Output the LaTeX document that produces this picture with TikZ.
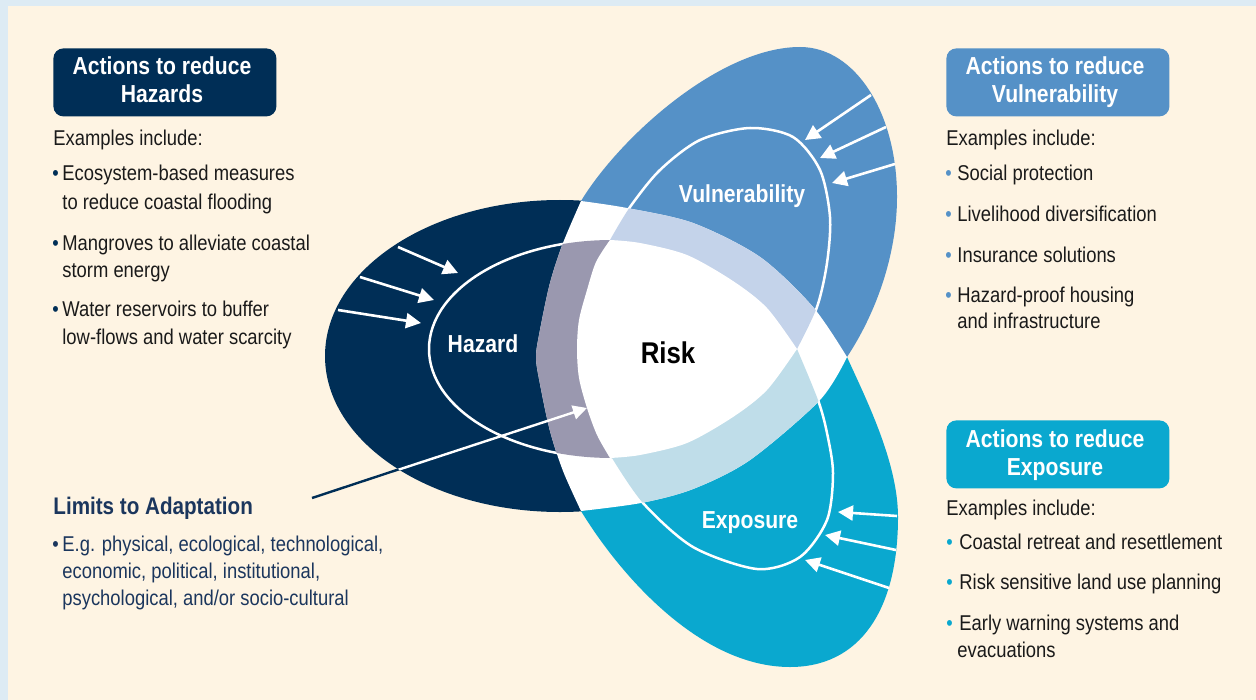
\documentclass[tikz,border=0pt]{standalone}
\usepackage{fontspec}
\setmainfont{Liberation Sans}[FakeStretch=0.86]
\usetikzlibrary{arrows.meta}
\definecolor{frameblue}{HTML}{DDEBF4}
\definecolor{cream}{HTML}{FEF4E3}
\definecolor{navy}{HTML}{002E56}
\definecolor{vblue}{HTML}{5591C7}
\definecolor{ecyan}{HTML}{0AA8CF}
\definecolor{grayband}{HTML}{9A98AF}
\definecolor{lblue}{HTML}{C4D3EA}
\definecolor{lcyan}{HTML}{BFDDE9}
\definecolor{limitnavy}{HTML}{1B365D}
\definecolor{txt}{HTML}{1A1A1A}
\newcommand{\fbody}{\fontsize{10.7}{12.8}\selectfont}
\newcommand{\fhead}{\fontsize{12.3}{14}\selectfont\bfseries}
\newcommand{\flim}{\fontsize{12}{14}\selectfont\bfseries}
\newcommand{\frisk}{\fontsize{15}{18}\selectfont\bfseries}
\begin{document}
\begin{tikzpicture}[x=0.5pt,y=-0.5pt,line join=round,
  wl/.style={white,line width=1.25pt},
  warr/.style={white,line width=1.3pt,-{Triangle[length=7.5pt,width=7.5pt]}},
  body/.style={font=\fbody,text=txt,anchor=base west,inner sep=0pt},
  bul/.style={font=\fbody,anchor=base west,inner sep=0pt},
  head/.style={font=\fhead,text=white,anchor=base,inner sep=0pt},
  lab/.style={font=\fhead,text=white,anchor=base,inner sep=0pt},
  actbox/.style={rounded corners=5pt,minimum width=111.5pt,minimum height=34pt,anchor=north west,inner sep=0pt}]
\useasboundingbox (0,0) rectangle (1256,700);
\fill[frameblue] (0,0) rectangle (1256,700);
\fill[cream] (8,6) rectangle (1256,700);

% ---- Hazard petal
\fill[navy] (560,356) ellipse [x radius=117.5pt, y radius=78pt];
\draw[wl] (612,349) ellipse [x radius=91.5pt, y radius=54.5pt];
\coordinate (ha1) at (398,247); \coordinate (hb1) at (458,273);
\coordinate (ha2) at (360,277); \coordinate (hb2) at (434,300);
\coordinate (ha3) at (338,310); \coordinate (hb3) at (421,323);
\draw[warr] (ha1) -- (hb1);
\draw[warr] (ha2) -- (hb2);
\draw[warr] (ha3) -- (hb3);

% ---- Vulnerability petal
\fill[vblue] (581,201) .. controls (620,137) and (720,47) .. (800,47)
  .. controls (855,47) and (897,112) .. (897,197)
  .. controls (897,257) and (874.5,315.5) .. (847,357) -- cycle;
\draw[wl] plot[smooth] coordinates {(600,256) (610,240) (630,207) (660,170) (700,140) (750,128) (793,137) (820,170) (830,217) (827,263) (817,307) (797,349) (783,370)};
\coordinate (va1) at (871,95); \coordinate (vb1) at (805,140);
\coordinate (va2) at (886,127); \coordinate (vb2) at (820,158);
\coordinate (va3) at (895,164); \coordinate (vb3) at (832,183);
\draw[warr] (va1) -- (vb1);
\draw[warr] (va2) -- (vb2);
\draw[warr] (va3) -- (vb3);

% ---- Exposure petal
\fill[ecyan] (581,511) .. controls (620,575) and (700,667) .. (790,667)
  .. controls (860,667) and (898,610) .. (898,517)
  .. controls (898,462) and (865.5,398) .. (847,357) -- cycle;
\draw[wl] plot[smooth] coordinates {(602,442) (612,458) (643,503) (693,547) (757,569) (800,557) (827,520) (833,473) (827,433) (818,400) (797,349) (783,328)};
\coordinate (ea1) at (897,516); \coordinate (eb1) at (838,512);
\coordinate (ea2) at (896,550); \coordinate (eb2) at (825,535);
\coordinate (ea3) at (889,588); \coordinate (eb3) at (805,560);
\draw[warr] (ea1) -- (eb1);
\draw[warr] (ea2) -- (eb2);
\draw[warr] (ea3) -- (eb3);

% ---- central region
\begin{scope}
\clip plot[smooth,tension=0.5] coordinates {(581,201) (563,243) (550,283) (540,330) (536,357) (540,384) (550,431) (563,471) (581,511)}
  -- plot[smooth,tension=0.5] coordinates {(581,511) (641,503) (693,489) (750,460) (820,400) (847,357)}
  -- plot[smooth,tension=0.5] coordinates {(847,357) (813,307) (760,257) (693,223) (627,208) (581,201)} -- cycle;
\fill[white] (500,150) rectangle (900,560);
\fill[grayband] (612,349) ellipse [x radius=91.5pt, y radius=54.5pt];
\fill[lblue] plot[smooth] coordinates {(610,240) (630,207) (660,170) (700,140) (750,128) (793,137) (820,170) (830,217) (827,263) (817,307) (797,349)} -- (700,349) -- cycle;
\fill[lcyan] plot[smooth] coordinates {(612,458) (643,503) (693,547) (757,569) (800,557) (827,520) (833,473) (827,433) (818,400) (797,349)} -- (700,349) -- cycle;
\fill[white] plot[smooth,tension=0.5] coordinates {(610,240) (596,262) (587,290) (579,320) (577,349) (579,378) (587,408) (597,435) (610,458)}
  -- plot[smooth,tension=0.5] coordinates {(610,458) (640,455) (687,443) (733,417) (767,390) (797,349)}
  -- plot[smooth,tension=0.5] coordinates {(797,349) (767,308) (733,281) (687,255) (640,243) (610,240)} -- cycle;
\end{scope}

% ---- limits arrow
\coordinate (la) at (312,498); \coordinate (lm) at (430,459); \coordinate (lb) at (587,408);
\draw[navy,line width=1.2pt] (la) -- (lm);
\begin{scope}
\clip (560,356) ellipse [x radius=117.5pt, y radius=78pt];
\draw[white,line width=1.2pt,-{Triangle[length=7pt,width=7pt]}] (la) -- (lb);
\end{scope}

% ---- labels in diagram
\node[lab] (lhaz) at (483,352) {Hazard};
\node[lab] (lvul) at (742,203) {Vulnerability};
\node[lab] (lexp) at (750,528) {Exposure};
\node[font=\frisk,anchor=base,inner sep=0pt] (lrisk) at (668,363) {Risk};

% ---- left column
\node[actbox,fill=navy] (hbox) at (53,48) {};
\node[head] (hb1t) at (162,75) {Actions to reduce};
\node[head] (hb2t) at (162,103) {Hazards};
\node[body] (hex) at (53,146) {Examples include:};
\node[bul,text=navy] (hbu1) at (52,181) {•};
\node[body] (hl1) at (62,181) {Ecosystem-based measures};
\node[body] (hl1b) at (62,209) {to reduce coastal flooding};
\node[bul,text=navy] (hbu2) at (52,250) {•};
\node[body] (hl2) at (62,250) {Mangroves to alleviate coastal};
\node[body] (hl2b) at (62,277) {storm energy};
\node[bul,text=navy] (hbu3) at (52,316) {•};
\node[body] (hl3) at (62,316) {Water reservoirs to buffer};
\node[body] (hl3b) at (62,344) {low-flows and water scarcity};

\node[font=\flim,text=limitnavy,anchor=base west,inner sep=0pt] (lim) at (53,514) {Limits to Adaptation};
\node[bul,text=limitnavy] (lbu) at (52,551) {•};
\node[body,text=limitnavy] (ll1) at (62,551) {E.g. physical, ecological, technological,};
\node[body,text=limitnavy] (ll2) at (62,578) {economic, political, institutional,};
\node[body,text=limitnavy] (ll3) at (62,605) {psychological, and/or socio-cultural};

% ---- right top
\node[actbox,fill=vblue] (vbox) at (946,48) {};
\node[head] (vb1t) at (1055,75) {Actions to reduce};
\node[head] (vb2t) at (1055,103) {Vulnerability};
\node[body] (vex) at (946,146) {Examples include:};
\node[bul,text=vblue] (vbu1) at (945,181) {•};
\node[body] (vl1) at (957,181) {Social protection};
\node[bul,text=vblue] (vbu2) at (945,221) {•};
\node[body] (vl2) at (957,221) {Livelihood diversification};
\node[bul,text=vblue] (vbu3) at (945,262) {•};
\node[body] (vl3) at (957,262) {Insurance solutions};
\node[bul,text=vblue] (vbu4) at (945,302) {•};
\node[body] (vl4) at (957,302) {Hazard-proof housing};
\node[body] (vl4b) at (957,328) {and infrastructure};

% ---- right bottom
\node[actbox,fill=ecyan] (ebox) at (946,420) {};
\node[head] (eb1t) at (1055,447) {Actions to reduce};
\node[head] (eb2t) at (1055,475) {Exposure};
\node[body] (eex) at (946,515) {Examples include:};
\node[bul,text=ecyan] (ebu1) at (946,549) {•};
\node[body] (el1) at (959,549) {Coastal retreat and resettlement};
\node[bul,text=ecyan] (ebu2) at (946,589) {•};
\node[body] (el2) at (959,589) {Risk sensitive land use planning};
\node[bul,text=ecyan] (ebu3) at (946,630) {•};
\node[body] (el3) at (959,630) {Early warning systems and};
\node[body] (el3b) at (957,657) {evacuations};
\end{tikzpicture}
\end{document}
